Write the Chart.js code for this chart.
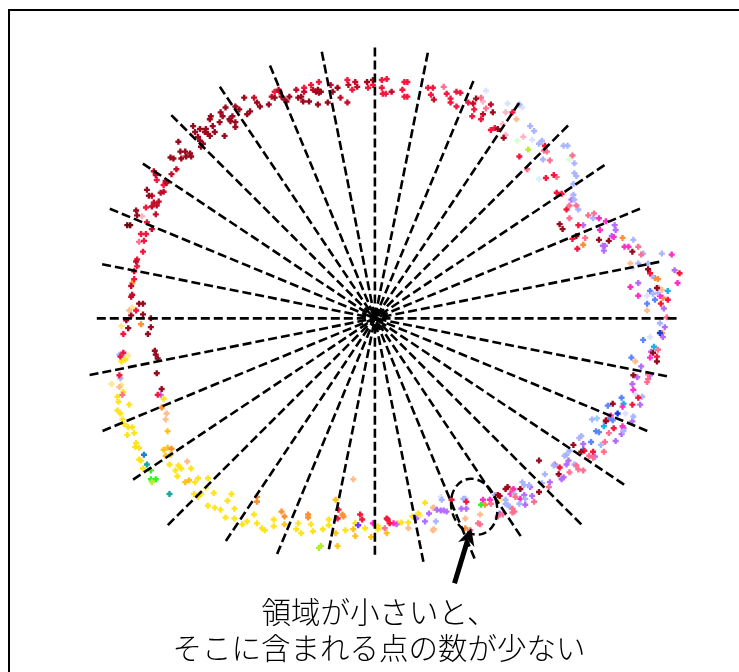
<!DOCTYPE html>
<html lang="ja">
<head>
<meta charset="utf-8">
<title>領域と点の数</title>
<script src="https://cdn.jsdelivr.net/npm/chart.js@4"></script>
<style>
  html, body { margin: 0; padding: 0; width: 739px; height: 672px; overflow: hidden; background: #fff; }
  #frame { position: absolute; left: 8px; top: 9px; width: 900px; height: 900px;
           border-left: 2px solid #000; border-top: 2px solid #000; }
  #plot { position: absolute; left: 0; top: 0; }
  #caption { position: absolute; left: 0; top: 592px; width: 758px; text-align: center;
             font-family: "Noto Sans CJK JP", "Noto Sans", sans-serif; font-size: 29.5px; font-weight: 300;
             line-height: 36px; color: #000; white-space: nowrap; }
</style>
</head>
<body>
<div id="frame"></div>
<canvas id="plot" width="739" height="672"></canvas>
<div id="caption">領域が小さいと、<br>そこに含まれる点の数が少ない</div>
<script>
// Length of each of the 32 dashed spokes (counter-clockwise from the +x direction).
const spokeLength = [307, 295, 292, 281, 278, 264, 262, 276, 276, 277, 279, 284, 293, 284, 292, 283,
                     283, 296, 300, 296, 298, 273, 260, 240, 241, 253, 265, 267, 297, 305, 300, 303];

// Sample points, grouped by the colour they were classified with.
const darkRed = [[-142,216],[-138,213],[-133,225],[-130,208],[-127,211],[-120,220],[-117,216],[-108,218],
  [-142,200],[-142,195],[-145,206],[-152,215],[-157,210],[-155,206],[-148,203],[-147,201],[-158,200],
  [-167,206],[-168,203],[-165,196],[-163,190],[-172,193],[-173,190],[-170,188],[-185,196],[-178,193],
  [-183,190],[-180,185],[-153,186],[-168,186],[-178,181],[-175,178],[-177,175],[-200,180],[-198,170],
  [-193,170],[-188,168],[-187,165],[-192,165],[-197,163],
  [-102,225],[-92,223],[-87,226],[-95,226],[-90,221],[-78,225],[-75,226],[-73,221],[-67,221],[-60,231],
  [-58,233],[-57,230],[-55,231],[-58,218],[-48,220],[-43,231],[-38,235],[-8,241],[-2,243],
  [-208,164],[-205,163],[-232,131],[-230,125],[-243,110],[-242,105],
  [103,224],[120,210],[125,193],[131,184],[188,96],[191,91],[205,84],[228,80],[238,79],[262,68],[278,50],
  [287,31],[283,-35],[287,-44],[263,-58],[242,-87],[202,-129],[210,-136],[127,-181],[133,-174],[135,-172],
  [148,-174],[167,-177],[167,-145],[187,-159],[125,-180],[235,-105],
  [-240,15],[-236,15],[-236,4],[-248,3],[-253,-2],[-251,-10],[-228,0],[-228,-9],[-231,-16],[-224,-33],
  [-223,-37],[-221,-41],[-222,-56],[-217,-72]];
const maroon = [[-252,95],[-249,95]];
const crimson = [[-123,225],[-105,226],[-97,231],[-98,233],[-80,233],[-72,231],[-63,233],[-45,238],
  [-35,225],[-28,220],[-27,238],[-20,241],[-18,236],[17,231],[60,223],[100,219],[118,218],[110,208],
  [-202,152],[-207,147],[-225,150],[-223,146],[-212,138],[-213,140],[-227,125],[-218,128],[-215,129],
  [-225,118],[-222,115],[-220,119],[-227,114],[-223,106],[-227,91],[-243,58],[-245,48],[-248,33],
  [-248,22],[-247,24]];
const red = [[-102,231],[-72,235],[-65,238],[-57,241],[-28,243],[-23,233],[-7,235],[-2,238],[7,243],
  [7,235],[8,229],[11,229],[12,244],[30,241],[33,241],[28,233],[30,226],[33,226],[54,235],[59,235],
  [57,228],[73,229],[77,224],[77,220],[83,231],[87,230],[83,216],[95,220],[101,213],[99,206],[108,203],
  [118,192],[122,194],[140,210],[173,176],[147,165],[182,146],[174,143],[185,128],[190,127],[195,111],
  [207,95],[201,81],[206,71],[280,46],[310,46],[298,19],[291,15],[287,-39],[268,-81],[262,-88],
  [235,-104],[243,-112],[222,-136],[188,-152],[213,-135],[78,-185],[93,-187],
  [-222,141],[-215,136],[-233,113],[-232,98],[-238,86],[-233,86],[-235,79],[-236,68],[-242,60],
  [-242,53],[-245,40],[-243,8],[-256,-16],[-256,-35],[-259,-39],[-260,-58],[-221,-78],
  [-37,-195],[-38,-204],[-15,-200],[-13,-205],[12,-204],[13,-205],[15,-209]];
const pink = [[70,236],[108,225],[113,214],[172,171],[175,170],[178,161],[155,152],[185,144],[201,166],
  [198,115],[205,115],[217,105],[223,107],[198,102],[214,82],[268,73],[271,65],[297,1],[288,-32],
  [278,-57],[278,-62],[277,-65],[238,-117],[234,-126],[233,-136],[198,-157],[207,-154],[212,-155],
  [222,-142],[218,-140],[205,-150],[142,-197],[140,-198],[162,-187],[177,-172],[97,-216],[105,-209],
  [107,-210],[118,-189],[125,-202],[130,-200],[143,-182],[140,-194],[10,-214],[-240,78],[-257,-78]];
const lightPink = [[110,221],[130,198],[133,187],[133,210],[151,185],[-237,104]];
const lavender = [[147,218],[158,196],[162,191],[167,178],[170,181],[171,162],[192,176],[196,176],
  [203,158],[203,148],[205,145],[202,137],[202,126],[203,121],[207,111],[222,102],[263,80],[273,66],
  [268,56],[278,56],[282,43],[292,66],[283,25],[288,26],[290,-5],[272,-80],[263,-100],[221,-103],
  [210,-120],[230,-129],[198,-135],[195,-139],[208,-122],[253,-115],[193,-140],[182,-150],[203,-149],
  [142,-179],[133,-189],[137,-192],[150,-167],[152,-170],[157,-170],[170,-168],[173,-159],[133,-185],
  [135,-190],[147,-189],[153,-184],[122,-180],[90,-184],[92,-184],[68,-185],[62,-207],[-260,-37],[-259,-61]];
const paleLavender = [[113,232],[135,219],[150,215],[160,182],[262,51],[277,23],[280,-19],[265,-77],
  [255,-97],[67,-182]];
const blue = [[280,28],[285,19],[277,15],[273,-22],[261,-40],[251,-81],[237,-89],[242,-104],[225,-115],
  [228,-116],[220,-126],[212,-134]];
const navy = [[290,-15],[247,-97]];
const magenta = [[228,102],[235,99],[229,90],[243,83],[254,73],[258,73],[302,65],[308,36],[260,32],
  [268,23],[290,23],[280,-40],[263,-73],[252,-90],[240,-99],[252,-110],[141,-174],[148,-184],[110,-185],
  [117,-185],[138,-179],[-2,-209],[19,-209]];
const violet = [[200,121],[212,95],[232,74],[234,74],[233,69],[241,84],[244,95],[245,90],[305,49],
  [268,36],[294,10],[295,-9],[293,-19],[281,-34],[271,-49],[280,-58],[267,-60],[262,-67],[270,-88],
  [262,-105],[253,-112],[251,-118],[245,-125],[212,-128],[224,-141],[197,-145],[183,-149],[190,-164],
  [192,-162],[195,-149],[178,-167],[158,-172],[160,-181],[153,-190],[152,-180],[127,-199],[88,-194],
  [93,-194],[63,-195],[67,-196],[70,-196],[73,-197],[55,-199],[42,-204],[22,-210],[51,-207],[-218,-78]];
const indigo = [[-17,-211]];
const cyan = [[298,28],[284,-29],[253,-87],[238,-102],[233,-110]];
const skyBlue = [[226,-102]];
const paleCyan = [[167,142]];
const mint = [[145,181],[198,162]];
const lime = [[156,172],[-55,-232],[-57,-234],[-227,-167]];
const green = [[108,-190],[-228,-155],[-228,-164],[-223,-164]];
const teal = [[-209,-179],[-232,-149]];
const steelBlue = [[-235,-139]];
const orange = [[212,75],[252,82],[285,41],[288,40],[293,21],[292,-15],[112,-190],[140,-175],[92,-214],
  [-120,-182],[-120,-187],[-95,-197],[-92,-202],[-68,-200],[-68,-203],[-33,-200],[-32,-202],[-238,-6],
  [-217,-91],[-207,-133],[-247,36]];
const peach = [[144,203],[260,56],[289,31],[292,29],[277,8],[265,-44],[60,-193],[60,-215],[92,-204],
  [107,-200],[34,-214],[59,-193],[59,-216],[-22,-164],[-250,8],[-260,-70],[-212,-97],[-213,-103],[-191,-146]];
const yellow = [[-123,-200],[-120,-209],[-115,-214],[-112,-216],[-103,-205],[-103,-212],[-78,-209],
  [-80,-215],[-75,-219],[-65,-210],[-63,-217],[-53,-215],[-47,-205],[-47,-211],[-30,-216],[-20,-209],
  [-10,-214],[3,-212],[3,-215],[23,-209],[27,-208],[34,-208],[38,-202],[44,-199],[51,-188],
  [-209,-149],[-203,-155],[-200,-150],[-197,-153],[-187,-153],[-201,-161],[-183,-167],[-180,-163],
  [-170,-163],[-184,-179],[-180,-182],[-177,-179],[-170,-191],[-163,-193],[-157,-195],[-164,-178],
  [-150,-186],[-146,-179],[-143,-194],[-152,-203],[-143,-204],[-135,-210],[-130,-207],
  [-254,-42],[-258,-44],[-256,-75],[-215,-82],[-262,-80],[-261,-85],[-250,-88],[-262,-94],[-259,-97],
  [-257,-103],[-255,-108],[-251,-111],[-247,-111],[-245,-117],[-252,-119],[-243,-127],[-244,-131],
  [-240,-132],[-240,-144],[-238,-145],[-236,-153]];
const gold = [[-92,-210],[-38,-232],[-40,-185],[-40,-219],[-22,-215],[-20,-222],[-4,-223],[12,-219],
  [-215,-134],[-211,-132],[-213,-140],[-208,-139],[-193,-167],[-189,-165],[-211,-115]];
const paleYellow = [[128,-185],[46,-201],[-172,-173],[-247,11],[-258,-8],[-251,-38],[-268,-67],[-258,-68]];

// Colour of each point group.
const groupColors = [
  [darkRed, '#9a0a1e'], [maroon, '#6a0a10'], [crimson, '#c20c2a'], [red, '#f5163c'],
  [pink, '#ff6f90'], [lightPink, '#ffb3c4'], [lavender, '#a9b5ff'], [paleLavender, '#dde1ff'],
  [blue, '#5b84ff'], [navy, '#1e3ce0'], [magenta, '#ff2ec8'], [violet, '#b46cff'], [indigo, '#6a3cff'],
  [cyan, '#19b2ea'], [skyBlue, '#8fd0ff'], [paleCyan, '#d5f3ff'], [mint, '#d6ffd6'], [lime, '#b4f02a'],
  [green, '#3cee28'], [teal, '#14a898'], [steelBlue, '#1a7fd8'], [orange, '#ff8f2e'], [peach, '#ffbc8c'],
  [yellow, '#ffe41a'], [gold, '#ffc21a'], [paleYellow, '#ffe98f']
];

const datasets = [];
const step = 2 * Math.PI / spokeLength.length;
spokeLength.forEach((len, k) => {
  // each spoke is drawn from its outer end in to the centre
  datasets.push({
    data: [{ x: len * Math.cos(k * step), y: len * Math.sin(k * step) }, { x: 0, y: 0 }],
    showLine: true, borderColor: '#000', borderWidth: 2.6, borderDash: [9, 4],
    pointRadius: 0, fill: false, order: 0
  });
});
groupColors.forEach(([pts, col]) => {
  datasets.push({
    data: pts.map(([x, y]) => ({ x, y })),
    showLine: false, pointStyle: 'cross', pointRadius: 3, pointBorderWidth: 2.4,
    pointBorderColor: col, pointBackgroundColor: col, borderColor: col, order: 1
  });
});

// Callout: dashed ellipse around a sparse sector plus a heavy arrow pointing at it.
const callout = {
  ellipse: { x: 101, y: -192, rx: 23, ry: 29, tilt: -0.3 },
  arrow: { from: [81, -270], to: [98, -214] }
};
const calloutPlugin = {
  id: 'callout',
  afterDatasetsDraw(chart) {
    const { ctx, scales: { x, y } } = chart;
    const e = callout.ellipse;
    const ex = x.getPixelForValue(e.x), ey = y.getPixelForValue(e.y);
    const rx = x.getPixelForValue(e.x + e.rx) - ex, ry = ey - y.getPixelForValue(e.y + e.ry);
    ctx.save();
    ctx.strokeStyle = '#000';
    ctx.lineWidth = 2.4;
    ctx.setLineDash([8, 4]);
    ctx.beginPath();
    ctx.ellipse(ex, ey, rx, ry, e.tilt, 0, Math.PI * 2);
    ctx.stroke();
    ctx.setLineDash([]);
    const ax = x.getPixelForValue(callout.arrow.from[0]), ay = y.getPixelForValue(callout.arrow.from[1]);
    const bx = x.getPixelForValue(callout.arrow.to[0]), by = y.getPixelForValue(callout.arrow.to[1]);
    const len = Math.hypot(bx - ax, by - ay);
    const dx = (bx - ax) / len, dy = (by - ay) / len, nx = -dy, ny = dx;
    const head = 17, half = 8.5;
    ctx.lineWidth = 5;
    ctx.lineCap = 'butt';
    ctx.beginPath();
    ctx.moveTo(ax, ay);
    ctx.lineTo(bx - dx * (head - 4), by - dy * (head - 4));
    ctx.stroke();
    ctx.fillStyle = '#000';
    ctx.beginPath();
    ctx.moveTo(bx, by);
    ctx.lineTo(bx - dx * head + nx * half, by - dy * head + ny * half);
    ctx.lineTo(bx - dx * (head - 5), by - dy * (head - 5));
    ctx.lineTo(bx - dx * head - nx * half, by - dy * head - ny * half);
    ctx.closePath();
    ctx.fill();
    ctx.restore();
  }
};

new Chart(document.getElementById('plot'), {
  type: 'scatter',
  data: { datasets },
  options: {
    responsive: false,
    animation: false,
    devicePixelRatio: 1,
    layout: { padding: 0 },
    plugins: { legend: { display: false }, tooltip: { enabled: false } },
    scales: {
      x: { type: 'linear', display: false, min: -375, max: 364 },
      y: { type: 'linear', display: false, min: -354, max: 318 }
    }
  },
  plugins: [calloutPlugin]
});
</script>
</body>
</html>
